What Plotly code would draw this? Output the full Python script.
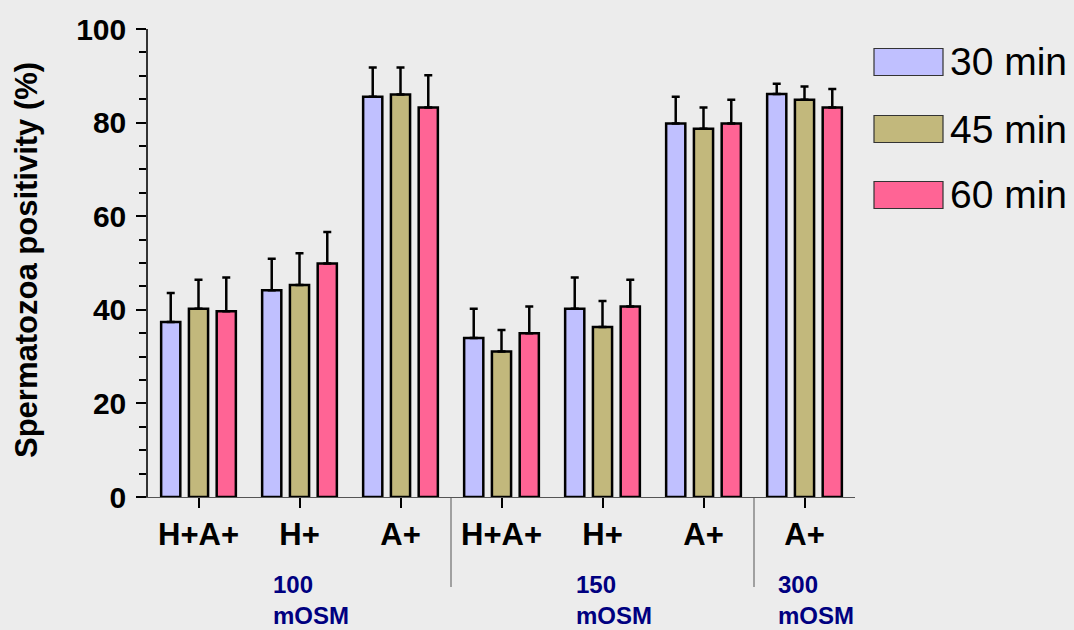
import plotly.graph_objects as go

# Treatment groups along the x axis
groups = ["H+A+", "H+", "A+", "H+A+", "H+", "A+", "A+"]
osmolarity_labels = ["100<br>mOSM", "150<br>mOSM", "300<br>mOSM"]
osmolarity_label_pos = [1, 4, 6]
separator_pos = [2.5, 5.5]

# Incubation times
series_names = ["30 min", "45 min", "60 min"]
series_colors = ["#C0C0FF", "#C2B87C", "#FF6495"]

# Mean positivity (%) per group
mean_30 = [37.4, 44.2, 85.5, 34.0, 40.2, 79.8, 86.1]
mean_45 = [40.2, 45.3, 86.0, 31.1, 36.3, 78.7, 84.9]
mean_60 = [39.7, 49.9, 83.2, 35.0, 40.7, 79.8, 83.2]

# Upper error (SD)
err_30 = [6.2, 6.7, 6.3, 6.2, 6.7, 5.7, 2.2]
err_45 = [6.2, 6.8, 5.8, 4.6, 5.6, 4.5, 2.8]
err_60 = [7.2, 6.7, 6.9, 5.7, 5.7, 5.1, 4.0]

means = [mean_30, mean_45, mean_60]
errors = [err_30, err_45, err_60]

FONT = "Liberation Sans, Arial, sans-serif"
BG = "#ECECEC"

x = list(range(len(groups)))
fig = go.Figure()
for name, color, m, e in zip(series_names, series_colors, means, errors):
    fig.add_trace(go.Bar(
        x=x, y=m, name=name, showlegend=False,
        marker=dict(color=color, line=dict(color="black", width=2.5)),
        error_y=dict(type="data", symmetric=False, array=e,
                     arrayminus=[0] * len(e), color="black",
                     thickness=2.5, width=4),
    ))

# Plot area geometry in pixels (used for paper-coordinate annotations)
W, H = 1074, 630
ML, MR, MT, MB = 148, 219, 29, 133
PW, PH = W - ML - MR, H - MT - MB


def px_x(px):
    return (px - ML) / PW


def px_y(py):
    return (H - MB - py) / PH


shapes = []
annotations = []

# Thin separators between osmolarity blocks
for s in separator_pos:
    shapes.append(dict(type="line", xref="x", yref="paper", x0=s, x1=s,
                       y0=0, y1=px_y(587), line=dict(color="#555", width=1)))

# Osmolarity block labels
for lab, pos in zip(osmolarity_labels, osmolarity_label_pos):
    annotations.append(dict(xref="x", yref="paper", x=pos - 0.28, y=px_y(569),
                            xanchor="left", yanchor="top", align="left",
                            text=lab, showarrow=False,
                            font=dict(family=FONT, size=24, color="#000080",
                                      weight="bold")))

# Legend drawn as swatches + labels on the right
row_centers = [62, 129, 195]
for name, color, cy in zip(series_names, series_colors, row_centers):
    shapes.append(dict(type="rect", xref="paper", yref="paper",
                       x0=px_x(874), x1=px_x(943),
                       y0=px_y(cy + 13.5), y1=px_y(cy - 13.5),
                       fillcolor=color, line=dict(color="#333", width=1.2)))
    annotations.append(dict(xref="paper", yref="paper", x=px_x(948), y=px_y(cy),
                            xanchor="left", yanchor="middle", text=name,
                            showarrow=False,
                            font=dict(family=FONT, size=39, color="black")))

# Y axis title
annotations.append(dict(xref="paper", yref="paper", x=px_x(26), y=px_y(260),
                        xanchor="center", yanchor="middle", textangle=-90,
                        text="Spermatozoa positivity (%)", showarrow=False,
                        font=dict(family=FONT, size=31, color="black",
                                  weight="bold")))

fig.update_layout(
    width=W, height=H,
    margin=dict(l=ML, r=MR, t=MT, b=MB, pad=0),
    paper_bgcolor=BG, plot_bgcolor=BG,
    barmode="group", bargap=0.175, bargroupgap=0.31,
    shapes=shapes, annotations=annotations,
    xaxis=dict(range=[-0.5, 6.5], tickmode="array", tickvals=x,
               ticktext=groups, ticks="outside", ticklen=10, tickwidth=2,
               tickcolor="black", showline=True, linecolor="#555",
               linewidth=1, showgrid=False, zeroline=False,
               tickfont=dict(family=FONT, size=31, color="black",
                             weight="bold")),
    yaxis=dict(range=[0, 100], tickmode="array",
               tickvals=[0, 20, 40, 60, 80, 100], ticks="outside",
               ticklen=10, tickwidth=2, tickcolor="black", showline=True,
               linecolor="#333", linewidth=1.5, showgrid=False,
               zeroline=False, ticklabelstandoff=4,
               minor=dict(dtick=5, ticks="outside", ticklen=7, tickwidth=2,
                          tickcolor="black", showgrid=False),
               tickfont=dict(family=FONT, size=30, color="black",
                             weight="bold")),
)

fig.write_html("out.html")
